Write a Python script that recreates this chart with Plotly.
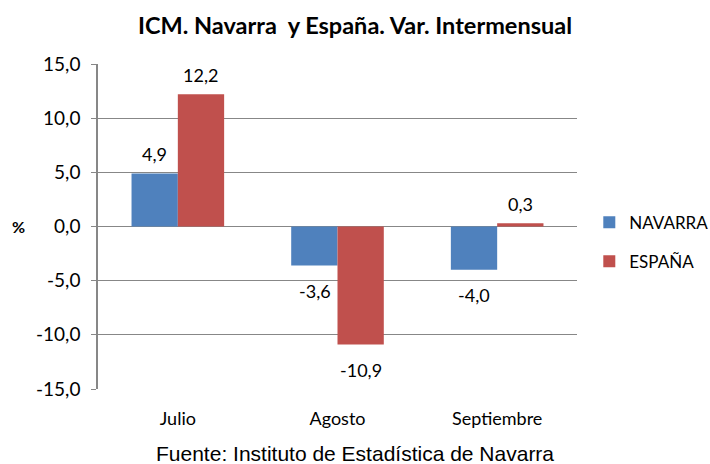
import plotly.graph_objects as go

categories = ["Julio", "Agosto", "Septiembre"]
navarra = [4.9, -3.6, -4.0]
espana = [12.2, -10.9, 0.3]
y_ticks = [-15, -10, -5, 0, 5, 10, 15]


def fmt(v):
    return f"{v:.1f}".replace(".", ",")


font_main = "Lato, 'Open Sans', sans-serif"

fig = go.Figure()
fig.add_trace(go.Bar(x=categories, y=navarra, name="NAVARRA",
                     marker=dict(color="#4F81BD", line=dict(width=0)),
                     legendgroup="a"))
fig.add_trace(go.Bar(x=categories, y=espana, name="ESPAÑA",
                     marker=dict(color="#C0504D", line=dict(width=0)),
                     legendgroup="b"))

# data labels
for series, shift in ((navarra, -23), (espana, 23)):
    for cat, v in zip(categories, series):
        fig.add_annotation(x=cat, y=v, xref="x", yref="y", text=fmt(v),
                           showarrow=False, xshift=shift,
                           yshift=19 if v >= 0 else -25, yanchor="middle",
                           font=dict(size=18, family=font_main, color="#000000"))

fig.update_layout(
    width=710, height=464,
    margin=dict(l=98, r=133, t=64, b=75),
    paper_bgcolor="white", plot_bgcolor="white",
    barmode="group", bargap=0.42, bargroupgap=0,
    font=dict(family=font_main, size=16, color="#000000"),
    title=dict(text="<b>ICM. Navarra  y España. Var. Intermensual</b>",
               x=0.5, xanchor="center", y=0.945, yanchor="middle",
               font=dict(size=23.5, family=font_main, color="#000000")),
    legend=dict(xref="container", yref="container", x=0.83, xanchor="left",
                y=0.478, yanchor="middle",
                font=dict(size=17, family=font_main), tracegroupgap=14,
                itemwidth=30, bgcolor="rgba(0,0,0,0)"),
    showlegend=True,
)
fig.update_yaxes(
    range=[-15, 15], tickvals=y_ticks, ticktext=[fmt(t) for t in y_ticks],
    showgrid=True, gridcolor="#878787", gridwidth=1.3,
    showline=True, linecolor="#878787", linewidth=1.5,
    ticks="outside", ticklen=5, tickcolor="#878787",
    ticklabelstandoff=7, automargin=False,
    zeroline=False, tickfont=dict(size=19, family=font_main),
)
fig.update_xaxes(
    showline=False, ticks="", ticklabelstandoff=17, automargin=False,
    tickfont=dict(size=18, family=font_main),
)
fig.add_annotation(text="<b>%</b>", xref="paper", yref="y", x=-0.165, y=0,
                   xanchor="center", yanchor="middle",
                   showarrow=False, font=dict(size=16, family=font_main))
fig.add_annotation(text="Fuente: Instituto de Estadística de Navarra",
                   xref="paper", yref="paper", x=0.5365, y=-0.197, yanchor="middle",
                   showarrow=False,
                   font=dict(size=21, family="'Liberation Sans', Arial, sans-serif"))

fig.write_html("out.html", config={"displayModeBar": False},
               post_script="document.body.style.margin='0px';")
